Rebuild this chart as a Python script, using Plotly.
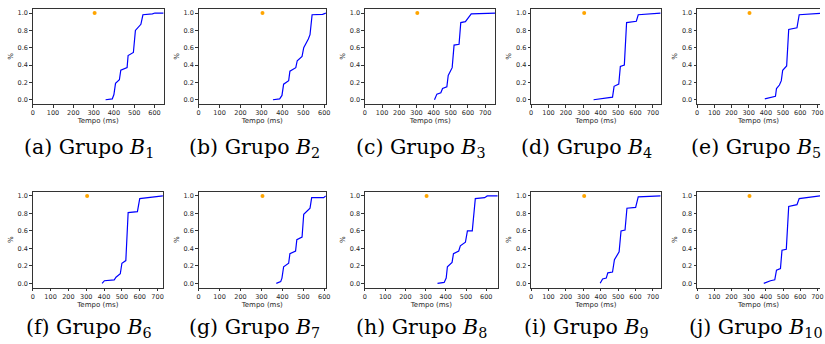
import plotly.graph_objects as go

# ---- data ----
labels = ["a", "b", "c", "d", "e", "f", "g", "h", "i", "j"]
grupos = ["1", "2", "3", "4", "5", "6", "7", "8", "9", "10"]

tempo_b1 = [359, 392, 400, 408, 427, 434, 465, 470, 496, 506, 533, 543, 590, 602, 645]
cdf_b1 = [0.0, 0.01, 0.06, 0.19, 0.23, 0.34, 0.37, 0.51, 0.545, 0.80, 0.87, 0.98, 0.99, 1.0, 1.0]

tempo_b2 = [355, 387, 398, 406, 430, 436, 464, 471, 494, 502, 524, 532, 542, 592, 608]
cdf_b2 = [0.0, 0.01, 0.05, 0.18, 0.22, 0.33, 0.37, 0.45, 0.50, 0.60, 0.70, 0.75, 0.98, 0.985, 1.0]

tempo_b3 = [405, 419, 442, 452, 477, 485, 508, 519, 548, 558, 585, 619, 760]
cdf_b3 = [0.0, 0.065, 0.08, 0.13, 0.15, 0.28, 0.37, 0.63, 0.64, 0.89, 0.90, 0.99, 1.0]

tempo_b4 = [359, 403, 416, 435, 468, 477, 504, 513, 536, 549, 605, 616, 745]
cdf_b4 = [0.0, 0.01, 0.015, 0.025, 0.03, 0.155, 0.18, 0.385, 0.40, 0.89, 0.905, 0.98, 1.0]

tempo_b5 = [394, 456, 462, 479, 490, 498, 521, 533, 581, 594, 745]
cdf_b5 = [0.01, 0.04, 0.13, 0.17, 0.22, 0.34, 0.39, 0.81, 0.83, 0.98, 1.0]

tempo_b6 = [389, 402, 457, 467, 491, 500, 522, 535, 587, 600, 730]
cdf_b6 = [0.0, 0.03, 0.04, 0.07, 0.11, 0.23, 0.26, 0.81, 0.82, 0.97, 1.0]

tempo_b7 = [371, 392, 398, 406, 430, 436, 463, 469, 494, 502, 532, 540, 597, 607]
cdf_b7 = [0.0, 0.02, 0.06, 0.19, 0.23, 0.34, 0.37, 0.50, 0.53, 0.79, 0.86, 0.98, 0.98, 1.0]

tempo_b8 = [359, 392, 402, 408, 431, 438, 464, 472, 497, 507, 531, 546, 592, 605, 657]
cdf_b8 = [0.0, 0.01, 0.06, 0.19, 0.24, 0.34, 0.37, 0.43, 0.47, 0.60, 0.60, 0.97, 0.98, 1.0, 1.0]

tempo_b9 = [397, 411, 432, 441, 468, 479, 506, 517, 540, 551, 601, 616, 745]
cdf_b9 = [0.0, 0.05, 0.06, 0.12, 0.13, 0.27, 0.36, 0.60, 0.61, 0.86, 0.87, 0.99, 1.0]

tempo_b10 = [388, 427, 452, 462, 485, 494, 519, 533, 581, 594, 715, 745]
cdf_b10 = [0.0, 0.03, 0.04, 0.15, 0.17, 0.38, 0.39, 0.88, 0.90, 0.97, 1.0, 1.0]

limite_x = [305]
limite_y = [1.0]

x_max = [645, 608, 760, 745, 715, 730, 608, 657, 745, 715]

tempos = [tempo_b1, tempo_b2, tempo_b3, tempo_b4, tempo_b5,
          tempo_b6, tempo_b7, tempo_b8, tempo_b9, tempo_b10]
cdfs = [cdf_b1, cdf_b2, cdf_b3, cdf_b4, cdf_b5,
        cdf_b6, cdf_b7, cdf_b8, cdf_b9, cdf_b10]

# ---- layout geometry (pixels) ----
W, H = 825, 344
x_dom_px = [(31, 163), (198.3, 326.7), (366, 497.7), (533.7, 664.3), (701, 825),
            (31, 162.3), (198.3, 326.7), (366, 500), (533.7, 664.3), (701, 825)]
y_dom_px = [(104.1, 8.7), (287.7, 191.6)]
cap_x_px = [88, 255, 423, 590, 760]
cap_y_px = [148, 328]

fig = go.Figure()
layout = {}
tick_font = dict(family="DejaVu Sans", size=6.5, color="#262626")

for i in range(10):
    row = i // 5
    n = "" if i == 0 else str(i + 1)
    xa, ya = "x" + n, "y" + n
    fig.add_trace(go.Scatter(x=tempos[i], y=cdfs[i], mode="lines",
                             line=dict(color="blue", width=1.2),
                             xaxis=xa, yaxis=ya, showlegend=False,
                             hoverinfo="skip"))
    fig.add_trace(go.Scatter(x=limite_x, y=limite_y, mode="markers",
                             marker=dict(color="orange", size=4),
                             xaxis=xa, yaxis=ya, showlegend=False,
                             hoverinfo="skip"))
    x0, x1 = x_dom_px[i]
    yb, yt = y_dom_px[row]
    edge = (i % 5 == 4)
    layout["xaxis" + n] = dict(
        domain=[x0 / W, x1 / W], range=[0, x_max[i]], anchor=ya,
        tick0=0, dtick=100, ticks="outside", ticklen=2.5, tickwidth=0.8,
        tickcolor="#333", tickfont=tick_font, showgrid=False, zeroline=False,
        showline=True, linecolor="#333", linewidth=1, mirror=True,
        title=dict(text="Tempo (ms)", font=dict(family="DejaVu Sans", size=7, color="#262626"),
                   standoff=1),
    )
    layout["yaxis" + n] = dict(
        domain=[(H - yb) / H, (H - yt) / H], range=[-0.05, 1.05], anchor=xa,
        tickvals=[0, 0.2, 0.4, 0.6, 0.8, 1.0], tickformat=".1f",
        ticks="outside", ticklen=2.5, tickwidth=0.8, tickcolor="#333",
        tickfont=tick_font, showgrid=False, zeroline=False,
        showline=True, linecolor="#333", linewidth=1, mirror=(not edge),
        title=dict(text="%", font=dict(family="DejaVu Sans", size=7, color="#262626"),
                   standoff=3),
    )

annotations = []
for i in range(10):
    row = i // 5
    col = i % 5
    annotations.append(dict(
        x=cap_x_px[col] / W, y=(H - cap_y_px[row]) / H, xref="paper", yref="paper",
        xanchor="center", yanchor="middle", showarrow=False,
        text="(" + labels[i] + ") Grupo <i>B</i><sub>" + grupos[i] + "</sub>",
        font=dict(family="DejaVu Serif", size=20.5, color="black"),
    ))

fig.update_layout(
    width=W, height=H, margin=dict(l=0, r=0, t=0, b=0),
    paper_bgcolor="white", plot_bgcolor="white",
    annotations=annotations, **layout,
)

fig.write_html("out.html", config={"displayModeBar": False},
               post_script="document.body.style.margin='0';document.body.style.overflow='hidden';")
